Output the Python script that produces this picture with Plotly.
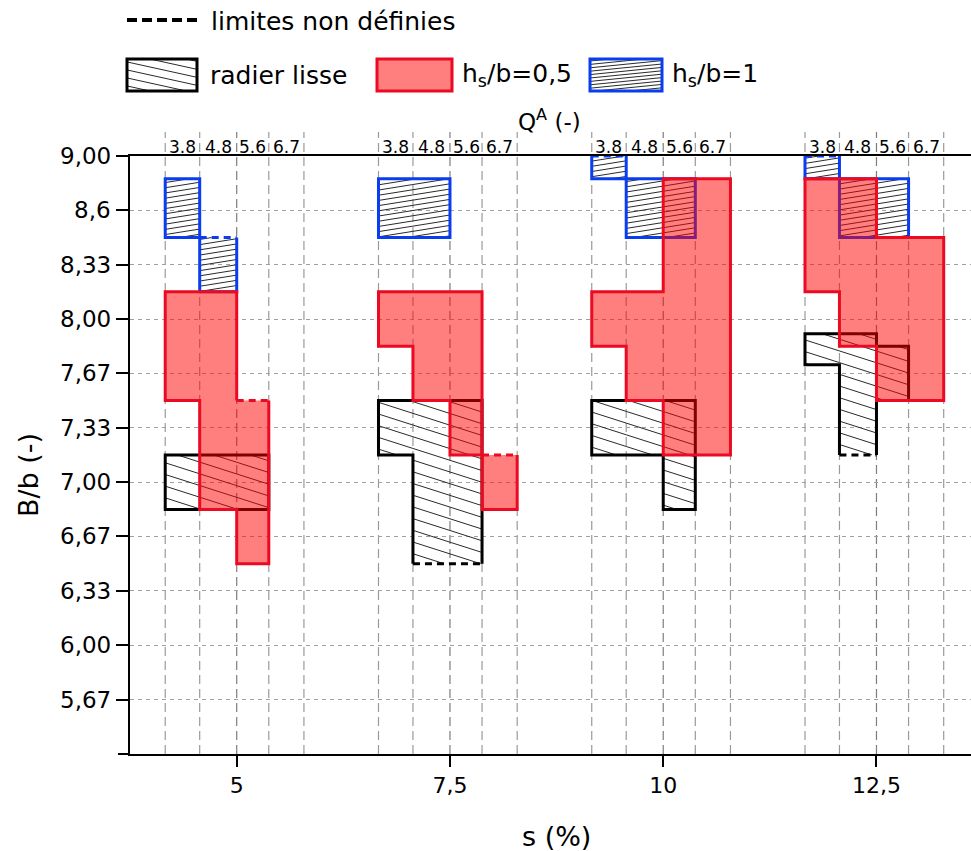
import math
from collections import defaultdict
import plotly.graph_objects as go

# ---------------- data ----------------
S_VALUES = [5, 7.5, 10, 12.5]
S_LABELS = ["5", "7,5", "10", "12,5"]
QA_LABELS = ["3.8", "4.8", "5.6", "6.7"]
BB_TICKS = [9.0, 8.667, 8.333, 8.0, 7.667, 7.333, 7.0, 6.667, 6.333, 6.0, 5.667]
BB_LABELS = ["9,00", "8,6", "8,33", "8,00", "7,67", "7,33", "7,00", "6,67", "6,33", "6,00", "5,67"]

# B/b limits for each s group (rows) and each Q^A column (3.8, 4.8, 5.6, 6.7)
radier_lo = [[6.833, 6.833, 6.833, None], [7.167, 6.5, 6.5, None],
             [7.167, 7.167, 6.833, None], [7.72, 7.167, 7.5, None]]
radier_hi = [[7.167, 7.167, 7.167, None], [7.5, 7.5, 7.5, None],
             [7.5, 7.5, 7.5, None], [7.91, 7.91, 7.833, None]]
radier_open = [[], [(1, "lo"), (2, "lo")], [], [(1, "lo")]]

hs05_lo = [[7.5, 6.833, 6.5, None], [7.833, 7.5, 7.167, 6.833],
           [7.833, 7.5, 7.167, 7.167], [8.167, 7.833, 7.5, 7.5]]
hs05_hi = [[8.167, 8.167, 7.5, None], [8.167, 8.167, 8.167, 7.167],
           [8.167, 8.167, 8.86, 8.86], [8.86, 8.86, 8.5, 8.5]]
hs05_open = [[(2, "hi")], [(3, "hi")], [], []]

hs1_lo = [[8.5, 8.167, None, None], [8.5, 8.5, None, None],
          [8.86, 8.5, 8.5, None], [8.86, 8.5, 8.5, None]]
hs1_hi = [[8.86, 8.5, None, None], [8.86, 8.86, None, None],
          [9.0, 8.86, 8.86, None], [9.0, 8.86, 8.86, None]]
hs1_open = [[(1, "hi")], [], [(0, "hi")], [(0, "hi")]]

# ---------------- layout constants ----------------
W, H = 971, 851
FRAME_Y0 = 0
PX_L, PX_R, PX_T, PX_B = 130, 971, 156, 754
X_RANGE = [3.749, 13.608]
Y_RANGE = [5.333, 9.0]
COL_OFFSETS = [-0.838, -0.434, 0.0, 0.376, 0.788]
KX = (PX_R - PX_L) / (X_RANGE[1] - X_RANGE[0])
KY = (PX_B - PX_T) / (Y_RANGE[1] - Y_RANGE[0])
FONT = "DejaVu Sans"
RED_LINE = "#ec0a22"
RED_FILL = "rgba(255,0,0,0.5)"
BLUE_LINE = "#0b3df0"
HATCH_COL = "#2a2a2a"


def P(x, y):
    """window pixel -> paper coordinates"""
    return x / W, 1 - (y - FRAME_Y0) / (H - FRAME_Y0)


def hatch_px(rect, slope, spacing, phase=0.0):
    Xa, Xb, Yt, Yb = rect
    segs = []
    cs = [Yt - slope * Xa, Yt - slope * Xb, Yb - slope * Xa, Yb - slope * Xb]
    k0 = math.ceil((min(cs) - phase) / spacing)
    k1 = math.floor((max(cs) - phase) / spacing)
    for k in range(k0, k1 + 1):
        c = phase + k * spacing
        x1 = (Yt - c) / slope
        x2 = (Yb - c) / slope
        lo = max(Xa, min(x1, x2))
        hi = min(Xb, max(x1, x2))
        if hi - lo > 0.8:
            segs.append(((lo, slope * lo + c), (hi, slope * hi + c)))
    return segs


def cells(lo, hi):
    out = []
    for g, s in enumerate(S_VALUES):
        for i in range(4):
            if lo[g][i] is None:
                continue
            out.append((s + COL_OFFSETS[i], s + COL_OFFSETS[i + 1], lo[g][i], hi[g][i]))
    return out


def to_px(c):
    xa, xb, blo, bhi = c
    return ((xa - X_RANGE[0]) * KX, (xb - X_RANGE[0]) * KX,
            (Y_RANGE[1] - bhi) * KY, (Y_RANGE[1] - blo) * KY)


def data_hatch(lo, hi, slope, spacing, phase=0.0):
    xs, ys = [], []
    for c in cells(lo, hi):
        for (X1, Y1), (X2, Y2) in hatch_px(to_px(c), slope, spacing, phase):
            xs += [X1 / KX + X_RANGE[0], X2 / KX + X_RANGE[0], None]
            ys += [Y_RANGE[1] - Y1 / KY, Y_RANGE[1] - Y2 / KY, None]
    return xs, ys


def symdiff(a, b):
    if a is None and b is None:
        return []
    if a is None:
        return [b]
    if b is None:
        return [a]
    lo_i, hi_i = max(a[0], b[0]), min(a[1], b[1])
    if lo_i >= hi_i:
        return [a, b]
    res = []
    if min(a[0], b[0]) < lo_i:
        res.append((min(a[0], b[0]), lo_i))
    if hi_i < max(a[1], b[1]):
        res.append((hi_i, max(a[1], b[1])))
    return res


def outline(lo, hi, opens):
    solid, dashed = [], []
    for g, s in enumerate(S_VALUES):
        ivs = [None if lo[g][i] is None else (lo[g][i], hi[g][i]) for i in range(4)]
        edges = [s + o for o in COL_OFFSETS]
        op = set(opens[g])
        for i, iv in enumerate(ivs):
            if iv is None:
                continue
            for val, tag in ((iv[0], "lo"), (iv[1], "hi")):
                seg = ((edges[i], val), (edges[i + 1], val))
                (dashed if (i, tag) in op else solid).append(seg)
        for j in range(5):
            left = ivs[j - 1] if j > 0 else None
            right = ivs[j] if j < 4 else None
            for a, b in symdiff(left, right):
                solid.append(((edges[j], a), (edges[j], b)))
    return solid, dashed


def chain(segs):
    key = lambda p: (round(p[0], 6), round(p[1], 6))
    adj = defaultdict(list)
    for idx, (p, q) in enumerate(segs):
        adj[key(p)].append(idx)
        adj[key(q)].append(idx)
    used = [False] * len(segs)
    xs, ys = [], []
    starts = [k for k, v in adj.items() if len(v) % 2 == 1] + list(adj.keys())
    for st in starts:
        while any(not used[i] for i in adj[st]):
            cur = st
            path = [cur]
            while True:
                cand = [i for i in adj[cur] if not used[i]]
                if not cand:
                    break
                i = cand[0]
                used[i] = True
                p, q = segs[i]
                nxt = key(q) if key(p) == cur else key(p)
                path.append(nxt)
                cur = nxt
            if len(path) > 2 and path[0] == path[-1]:
                path.append(path[1])
            xs += [p[0] for p in path] + [None]
            ys += [p[1] for p in path] + [None]
    return xs, ys


fig = go.Figure()


def add_outline(lo, hi, opens, color, name):
    solid, dashed = outline(lo, hi, opens)
    xs, ys = chain(solid)
    fig.add_trace(go.Scatter(x=xs, y=ys, mode="lines", name=name, showlegend=False,
                             line=dict(color=color, width=3), hoverinfo="skip"))
    if dashed:
        xs, ys = chain(dashed)
        fig.add_trace(go.Scatter(x=xs, y=ys, mode="lines", showlegend=False,
                                 line=dict(color=color, width=3, dash="7px,5px"),
                                 hoverinfo="skip"))


# radier lisse : hatched, black
hx, hy = data_hatch(radier_lo, radier_hi, 0.32, 11.7, 3.0)
fig.add_trace(go.Scatter(x=hx, y=hy, mode="lines", showlegend=False, hoverinfo="skip",
                         line=dict(color=HATCH_COL, width=1)))
add_outline(radier_lo, radier_hi, radier_open, "black", "radier lisse")

# hs/b = 1 : hatched, blue
hx, hy = data_hatch(hs1_lo, hs1_hi, -0.16, 5.2, 1.0)
fig.add_trace(go.Scatter(x=hx, y=hy, mode="lines", showlegend=False, hoverinfo="skip",
                         line=dict(color=HATCH_COL, width=1)))
add_outline(hs1_lo, hs1_hi, hs1_open, BLUE_LINE, "hs/b=1")

# hs/b = 0.5 : translucent red
fx, fy = [], []
for xa, xb, blo, bhi in cells(hs05_lo, hs05_hi):
    fx += [xa, xb, xb, xa, xa, None]
    fy += [blo, blo, bhi, bhi, blo, None]
fig.add_trace(go.Scatter(x=fx, y=fy, mode="lines", fill="toself", fillcolor=RED_FILL,
                         line=dict(width=0, color="rgba(0,0,0,0)"), showlegend=False,
                         hoverinfo="skip"))
add_outline(hs05_lo, hs05_hi, hs05_open, RED_LINE, "hs/b=0,5")

# ---------------- decorations ----------------
shapes = []
annotations = []
_, y_bot_p = P(0, PX_B)
_, y_top_p = P(0, PX_T)
_, y_top_ext = P(0, 132)
_, y_qa = P(0, 147)
for s in S_VALUES:
    for j, o in enumerate(COL_OFFSETS):
        shapes.append(dict(type="line", xref="x", yref="paper", x0=s + o, x1=s + o,
                           y0=y_bot_p, y1=y_top_ext, layer="below",
                           line=dict(color="#7d7d7d" if o == 0 else "#9a9a9a",
                                     width=1.2, dash="9px,5px")))
    for i, lab in enumerate(QA_LABELS):
        annotations.append(dict(text=lab, xref="x", yref="paper",
                                x=s + (COL_OFFSETS[i] + COL_OFFSETS[i + 1]) / 2,
                                y=y_qa, showarrow=False, xanchor="center",
                                yanchor="middle", font=dict(family=FONT, size=17, color="black")))

# y tick labels (placed close to the ticks, as in the reference)
for v, lab in zip(BB_TICKS, BB_LABELS):
    annotations.append(dict(text=lab, xref="paper", yref="y", x=113 / W, y=v,
                            showarrow=False, xanchor="right", yanchor="middle",
                            font=dict(family=FONT, size=23, color="black")))

# bottom axis line extension to the left
shapes.append(dict(type="line", xref="paper", yref="paper", x0=118 / W, x1=PX_L / W,
                   y0=y_bot_p, y1=y_bot_p, line=dict(color="black", width=2)))

# legend : dashed line
x0, y0 = P(127, 20)
x1, _ = P(197, 20)
shapes.append(dict(type="line", xref="paper", yref="paper", x0=x0, x1=x1, y0=y0, y1=y0,
                   line=dict(color="black", width=4, dash="10px,5px")))


def legend_box(px0, px1, py0, py1, color, fill=None, hatch=None):
    if hatch is not None:
        for (X1, Y1), (X2, Y2) in hatch_px((px0, px1, py0, py1), *hatch):
            a, b = P(X1, Y1)
            c, d = P(X2, Y2)
            shapes.append(dict(type="line", xref="paper", yref="paper", x0=a, y0=b, x1=c, y1=d,
                               line=dict(color=HATCH_COL, width=1)))
    a, b = P(px0, py1)
    c, d = P(px1, py0)
    shapes.append(dict(type="rect", xref="paper", yref="paper", x0=a, y0=b, x1=c, y1=d,
                       fillcolor=fill if fill else "rgba(0,0,0,0)",
                       line=dict(color=color, width=3)))


legend_box(127, 197, 59, 91, "black", hatch=(0.22, 8.0, 2.0))
legend_box(377, 452, 59, 91, RED_LINE, fill=RED_FILL)
legend_box(590, 662, 59, 91, BLUE_LINE, hatch=(-0.1, 3.4, 1.0))

for text, px, py, size in [("limites non définies", 209, 21, 25),
                           ("radier lisse", 208, 75, 25),
                           ("h<sub>s</sub>/b=0,5", 460, 75, 25),
                           ("h<sub>s</sub>/b=1", 670, 75, 25)]:
    a, b = P(px, py)
    annotations.append(dict(text=text, xref="paper", yref="paper", x=a, y=b, showarrow=False,
                            xanchor="left", yanchor="middle",
                            font=dict(family=FONT, size=size, color="black")))

a, b = P(549, 120)
annotations.append(dict(text="Q<sup>A</sup> (-)", xref="paper", yref="paper", x=a, y=b,
                        showarrow=False, xanchor="center", yanchor="middle",
                        font=dict(family=FONT, size=23, color="black")))
a, b = P(28, 475)
annotations.append(dict(text="B/b (-)", xref="paper", yref="paper", x=a, y=b, textangle=-90,
                        showarrow=False, xanchor="center", yanchor="middle",
                        font=dict(family=FONT, size=27, color="black")))
a, b = P(556, 836)
annotations.append(dict(text="s (%)", xref="paper", yref="paper", x=a, y=b,
                        showarrow=False, xanchor="center", yanchor="middle",
                        font=dict(family=FONT, size=27, color="black")))

fig.update_layout(
    width=W, height=H,
    margin=dict(l=0, r=0, t=0, b=0, pad=0, autoexpand=False),
    paper_bgcolor="white", plot_bgcolor="white",
    showlegend=False,
    font=dict(family=FONT, color="black"),
    shapes=shapes,
    annotations=annotations,
    xaxis=dict(domain=[PX_L / W, 1.0], range=X_RANGE, tickmode="array", tickvals=S_VALUES,
               ticktext=S_LABELS, ticks="outside", ticklen=11, tickwidth=2, tickcolor="black",
               showline=True, linecolor="black", linewidth=2, mirror=True, showgrid=False,
               zeroline=False, automargin=False,
               tickfont=dict(family=FONT, size=22, color="black")),
    yaxis=dict(domain=[y_bot_p, y_top_p], range=Y_RANGE, tickmode="array",
               tickvals=BB_TICKS, ticks="outside", ticklen=12, tickwidth=2,
               tickcolor="black", showline=True, linecolor="black", linewidth=2,
               showgrid=True, gridcolor="#a0a0a0", gridwidth=1, griddash="4px,4px",
               zeroline=False, showticklabels=False, automargin=False),
)

fig.write_html("out.html", config={"displayModeBar": False},
               post_script="document.body.style.margin='0px';"
                           "document.body.style.padding='0px';"
                           "document.body.style.overflow='hidden';"
                           "document.documentElement.style.overflow='hidden';"
                           "var d=document.getElementById('{plot_id}');"
                           "d.style.position='fixed';d.style.top='0px';d.style.left='0px';")
